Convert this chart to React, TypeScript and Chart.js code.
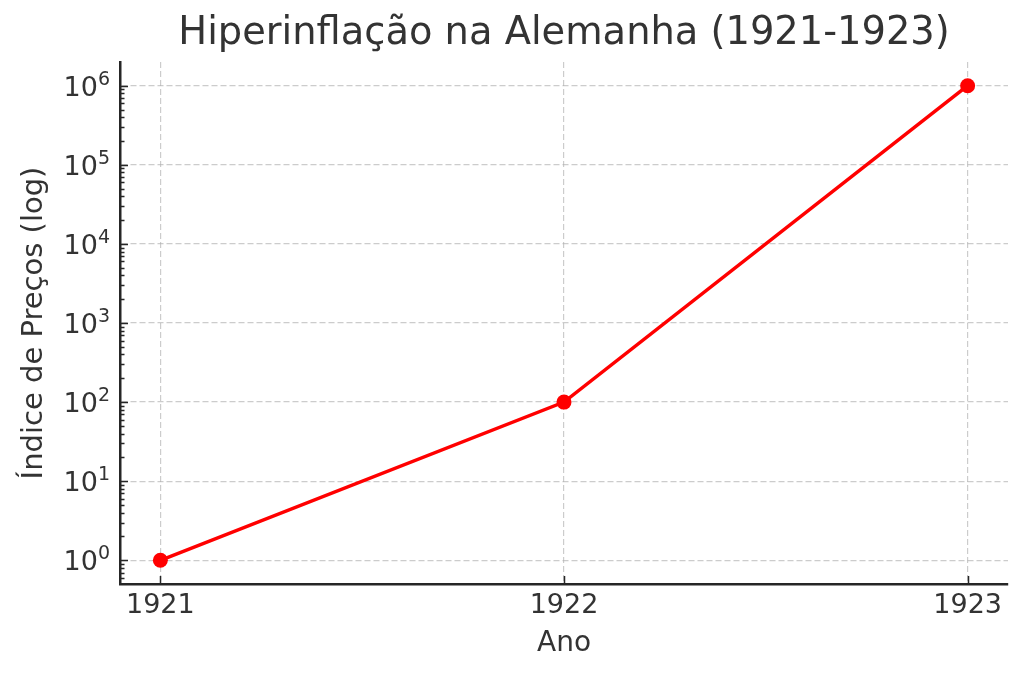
import React, { useEffect, useRef } from "react";
import { Chart, registerables } from "chart.js";

Chart.register(...registerables);

const TITLE = "Hiperinflação na Alemanha (1921-1923)";
const X_LABEL = "Ano";
const Y_LABEL = "Índice de Preços (log)";
const years = [1921, 1922, 1923];
const priceIndex = [1, 100, 1000000];
const yMajorTicks = [1, 10, 100, 1000, 10000, 100000, 1000000];
const FONT = "'DejaVu Sans', sans-serif";
const TEXT = "#333333";
const AXIS = "#262626";
const TICK_SIZE = 27;
const EXP_SIZE = 19;

const axisDecor = {
  id: "axisDecor",
  afterDatasetsDraw(chart: any) {
    const { ctx, chartArea, scales } = chart;
    const x = scales.x;
    const y = scales.y;
    ctx.save();
    ctx.strokeStyle = AXIS;
    ctx.lineWidth = 1.5;
    ctx.beginPath();
    for (const v of yMajorTicks) {
      const py = Math.round(y.getPixelForValue(v)) + 0.5;
      ctx.moveTo(chartArea.left, py);
      ctx.lineTo(chartArea.left + 8, py);
    }
    const kMin = Math.floor(Math.log10(y.min));
    const kMax = Math.ceil(Math.log10(y.max));
    for (let k = kMin; k <= kMax; k++) {
      for (let m = 2; m <= 9; m++) {
        const v = m * Math.pow(10, k);
        if (v < y.min || v > y.max) continue;
        const py = Math.round(y.getPixelForValue(v)) + 0.5;
        ctx.moveTo(chartArea.left, py);
        ctx.lineTo(chartArea.left + 4.5, py);
      }
    }
    for (const v of years) {
      const px = Math.round(x.getPixelForValue(v)) + 0.5;
      ctx.moveTo(px, chartArea.bottom);
      ctx.lineTo(px, chartArea.bottom - 8);
    }
    ctx.stroke();

    // y tick labels as 10 with a superscript exponent
    ctx.fillStyle = TEXT;
    ctx.textBaseline = "alphabetic";
    ctx.textAlign = "left";
    const right = chartArea.left - 10;
    for (const v of yMajorTicks) {
      const py = y.getPixelForValue(v);
      const base = "10";
      const exp = String(Math.round(Math.log10(v)));
      ctx.font = `${TICK_SIZE}px ${FONT}`;
      const wb = ctx.measureText(base).width;
      ctx.font = `${EXP_SIZE}px ${FONT}`;
      const we = ctx.measureText(exp).width;
      const x0 = right - wb - we;
      ctx.font = `${TICK_SIZE}px ${FONT}`;
      ctx.fillText(base, x0, py + 9.8);
      ctx.font = `${EXP_SIZE}px ${FONT}`;
      ctx.fillText(exp, x0 + wb, py - 1);
    }
    ctx.restore();
  },
};

export default function App() {
  const ref = useRef<HTMLCanvasElement | null>(null);
  useEffect(() => {
    if (!ref.current) return;
    const chart = new Chart(ref.current, {
      type: "line",
      data: {
        datasets: [
          {
            data: years.map((yr, i) => ({ x: yr, y: priceIndex[i] })),
            borderColor: "#ff0000",
            backgroundColor: "#ff0000",
            borderWidth: 3.5,
            pointRadius: 7.5,
            pointBorderWidth: 0,
            pointBackgroundColor: "#ff0000",
            tension: 0,
          },
        ],
      },
      options: {
        responsive: false,
        animation: false,
        devicePixelRatio: 1,
        layout: { padding: { left: 0, right: 16, top: 0, bottom: 0 } },
        plugins: {
          legend: { display: false },
          tooltip: { enabled: false },
          title: {
            display: true,
            text: TITLE,
            color: TEXT,
            fullSize: false,
            font: { family: FONT, size: 38.4, weight: "normal", lineHeight: 1.2 },
            padding: { top: 10.7, bottom: 5.2 },
          },
        },
        scales: {
          x: {
            type: "linear",
            min: 1920.9,
            max: 1923.1,
            afterBuildTicks: (scale: any) => {
              scale.ticks = years.map((v) => ({ value: v }));
            },
            afterFit: (scale: any) => {
              scale.height = 93;
            },
            ticks: {
              color: TEXT,
              font: { family: FONT, size: TICK_SIZE, lineHeight: 1.2 },
              padding: 5.5,
              maxRotation: 0,
              autoSkip: false,
              callback: (v: any) => String(v),
            },
            grid: {
              color: "rgba(176,176,176,0.65)",
              lineWidth: 1.2,
              drawTicks: false,
            },
            border: { display: true, color: AXIS, width: 2.5, dash: [6, 3] },
            title: {
              display: true,
              text: X_LABEL,
              color: TEXT,
              font: { family: FONT, size: 28, lineHeight: 1.2 },
              padding: { top: 0, bottom: 16.9 },
            },
          },
          y: {
            type: "logarithmic",
            min: Math.pow(10, -0.3),
            max: Math.pow(10, 6.3),
            afterBuildTicks: (scale: any) => {
              scale.ticks = yMajorTicks.map((v) => ({ value: v }));
            },
            afterFit: (scale: any) => {
              scale.width = 120;
            },
            ticks: { display: false, autoSkip: false },
            grid: {
              color: "rgba(176,176,176,0.65)",
              lineWidth: 1.2,
              drawTicks: false,
            },
            border: { display: true, color: AXIS, width: 2.5, dash: [6, 3] },
            title: {
              display: true,
              text: Y_LABEL,
              color: TEXT,
              font: { family: FONT, size: 29, lineHeight: 1.2 },
              padding: { top: 16.6, bottom: 0 },
            },
          },
        },
      },
      plugins: [axisDecor],
    } as any);
    return () => chart.destroy();
  }, []);
  return (
    <div style={{ position: "absolute", left: 0, top: 0, width: 1024, height: 677, background: "#fff" }}>
      <canvas ref={ref} width={1024} height={677} />
    </div>
  );
}
